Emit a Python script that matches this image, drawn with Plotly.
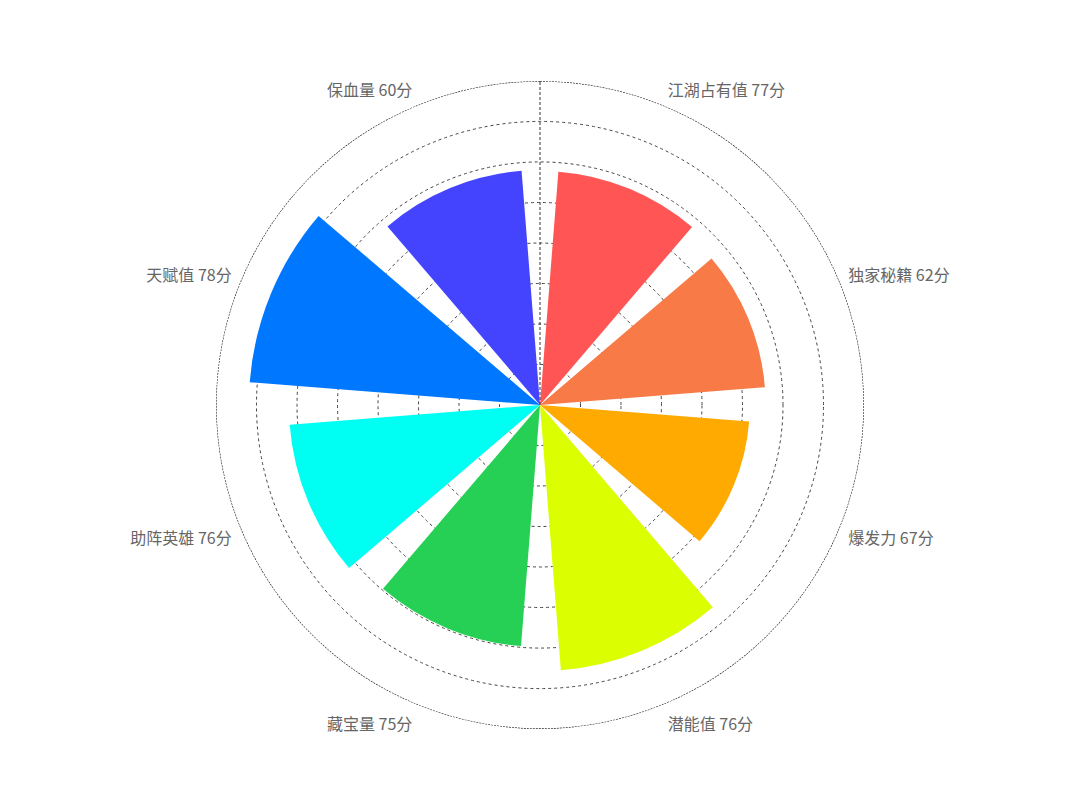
import plotly.graph_objects as go

# 各项名称与得分（用于角度轴标签）
names = ['江湖占有值', '独家秘籍', '爆发力', '潜能值', '藏宝量', '助阵英雄', '天赋值', '保血量']
scores = [77, 62, 67, 76, 75, 76, 78, 60]
# 每个扇形的长度
bar_values = [57.8, 55.7, 51.8, 65.7, 59.7, 62.0, 71.9, 58.0]
colors = ['#ff5555', '#f77a47', '#ffaa00', '#dbff00', '#26d055', '#00fff3', '#0077ff', '#4444ff']

r_max = 80
labels = [f'{n} {s}分' for n, s in zip(names, scores)]
step = 360 / len(names)
angles = [step * i + step / 2 for i in range(len(names))]

fig = go.Figure()
fig.add_trace(go.Barpolar(
    r=bar_values,
    theta=angles,
    width=step * 0.8,
    marker=dict(color=colors, line=dict(width=0)),
    opacity=1,
    text=labels,
    hoverinfo='text+r',
))
# 外圈（虚线）
fig.add_trace(go.Scatterpolar(
    r=[r_max] * 361,
    theta=list(range(361)),
    mode='lines',
    line=dict(color='#222', width=1.3, dash='2px,1px'),
    hoverinfo='skip',
))
# 半径轴线（虚线）
fig.add_trace(go.Scatterpolar(
    r=[0, r_max],
    theta=[0, 0],
    mode='lines',
    line=dict(color='#333', width=1, dash='3px,2px'),
    hoverinfo='skip',
))

fig.update_layout(
    width=1080,
    height=809,
    margin=dict(l=0, r=0, t=0, b=0),
    paper_bgcolor='white',
    showlegend=False,
    font=dict(family='Noto Sans CJK SC', size=16, color='#666'),
    polar=dict(
        domain=dict(x=[208 / 1080, 856 / 1080], y=[88 / 809, 736 / 809]),
        bgcolor='white',
        radialaxis=dict(
            range=[0, r_max],
            dtick=10,
            showticklabels=False,
            ticks='',
            showgrid=True,
            gridcolor='#444',
            griddash='dot',
            gridwidth=1,
            showline=False,
            layer='below traces',
        ),
        angularaxis=dict(
            direction='clockwise',
            rotation=90,
            tickmode='array',
            tickvals=angles,
            ticktext=labels,
            showgrid=False,
            ticks='outside',
            ticklen=6,
            tickcolor='rgba(0,0,0,0)',
            showline=False,
            tickfont=dict(size=16, color='#666'),
            layer='below traces',
        ),
    ),
)

fig.write_html('out.html')
